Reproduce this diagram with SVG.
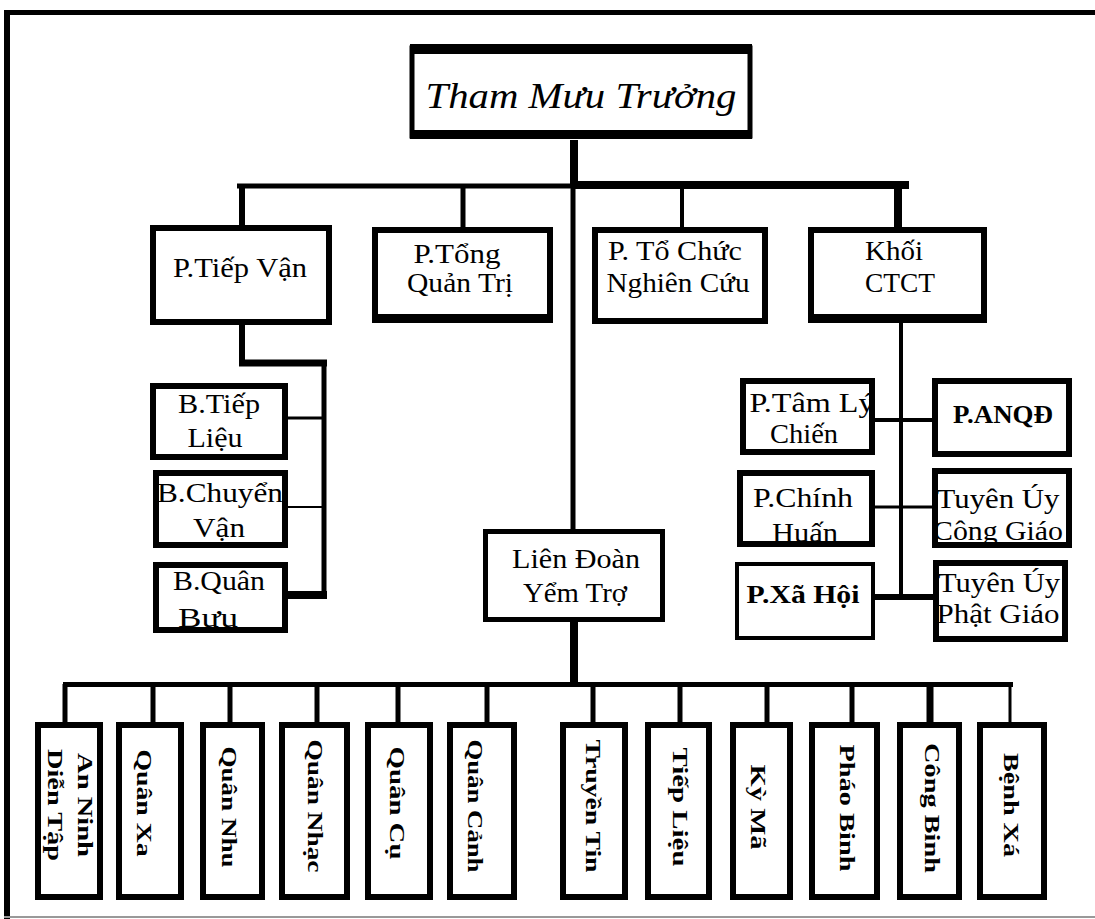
<svg xmlns="http://www.w3.org/2000/svg" width="1095" height="919" viewBox="0 0 1095 919">
<style>
.box{fill:#fff;stroke:#000;stroke-width:6}
.thin{fill:#fff;stroke:#000;stroke-width:4}
.t{font-family:"Liberation Serif","DejaVu Serif",serif;font-size:28px;fill:#000;text-anchor:middle}
.b{font-weight:bold}
.v{font-family:"Liberation Serif","DejaVu Serif",serif;font-size:22px;font-weight:bold;fill:#000;text-anchor:middle}
.c{stroke:#000;fill:none;stroke-linecap:butt}
</style>
<rect width="1095" height="919" fill="#fff"/>
<g id="frame">
<line x1="7" y1="10" x2="7" y2="919" stroke="#000" stroke-width="6"/>
<line x1="4" y1="12.5" x2="1095" y2="12.5" stroke="#000" stroke-width="5"/>
<line x1="4" y1="917" x2="1095" y2="917" stroke="#999" stroke-width="2"/>
</g>
<g id="connectors" class="c">
<line x1="574" y1="140" x2="574" y2="188" stroke-width="8"/>
<line x1="237" y1="186" x2="574" y2="186" stroke-width="5"/>
<line x1="574" y1="185" x2="909" y2="185" stroke-width="8"/>
<line x1="242" y1="185" x2="242" y2="226" stroke-width="6"/>
<line x1="463" y1="185" x2="463" y2="228" stroke-width="5"/>
<line x1="682" y1="185" x2="682" y2="228" stroke-width="4"/>
<line x1="898" y1="185" x2="898" y2="228" stroke-width="8"/>
<line x1="573" y1="186" x2="573" y2="530" stroke-width="5"/>
<line x1="574" y1="621" x2="574" y2="686" stroke-width="8"/>
<line x1="63" y1="684.5" x2="1013" y2="684.5" stroke-width="5"/>
<g stroke-width="5">
<line x1="65" y1="684" x2="65" y2="723"/>
<line x1="153" y1="684" x2="153" y2="723"/>
<line x1="230" y1="684" x2="230" y2="723"/>
<line x1="317" y1="684" x2="317" y2="723"/>
<line x1="398" y1="684" x2="398" y2="723"/>
<line x1="487" y1="684" x2="487" y2="723"/>
<line x1="593" y1="684" x2="593" y2="723"/>
<line x1="680" y1="684" x2="680" y2="723"/>
<line x1="767" y1="684" x2="767" y2="723"/>
<line x1="852" y1="684" x2="852" y2="723"/>
<line x1="930" y1="684" x2="930" y2="723" stroke-width="7"/>
<line x1="1010" y1="684" x2="1010" y2="723" stroke-width="3"/>
</g>
<line x1="242" y1="324" x2="242" y2="366" stroke-width="6"/>
<line x1="239" y1="363" x2="327" y2="363" stroke-width="7"/>
<line x1="324" y1="360" x2="324" y2="599" stroke-width="5"/>
<line x1="287" y1="595" x2="327" y2="595" stroke-width="8"/>
<line x1="287" y1="418" x2="324" y2="418" stroke-width="3"/>
<line x1="287" y1="507" x2="324" y2="507" stroke-width="2"/>
<line x1="901" y1="322" x2="901" y2="599" stroke-width="4"/>
<line x1="874" y1="420" x2="933" y2="420" stroke-width="4"/>
<line x1="874" y1="507" x2="933" y2="507" stroke-width="3"/>
<line x1="874" y1="597" x2="933" y2="597" stroke-width="6"/>
</g>
<g id="n-tmt">
<rect x="412" y="48" width="338" height="88" fill="#fff" stroke="#000" stroke-width="5"/>
<rect x="410" y="44" width="342" height="10" fill="#000"/>
<rect x="410" y="130" width="342" height="9" fill="#000"/>
<text x="581" y="108" class="t" style="font-size:36px;font-style:italic" textLength="311" lengthAdjust="spacingAndGlyphs">Tham Mưu Trưởng</text>
</g>
<g id="n-tiepvan">
<rect x="153" y="228" width="176" height="94" class="box"/>
<text x="240" y="277" class="t" textLength="134" lengthAdjust="spacingAndGlyphs">P.Tiếp Vận</text>
</g>
<g id="n-tongquantri">
<rect x="375" y="230" width="175" height="89" class="box"/>
<rect x="372" y="314" width="181" height="9" fill="#000"/>
<text x="457" y="263" class="t" textLength="87" lengthAdjust="spacingAndGlyphs">P.Tổng</text>
<text x="460" y="292" class="t" textLength="106" lengthAdjust="spacingAndGlyphs">Quản Trị</text>
</g>
<g id="n-tochuc">
<rect x="595" y="230" width="170" height="91" class="box"/>
<text x="675" y="260" class="t" textLength="134" lengthAdjust="spacingAndGlyphs">P. Tổ Chức</text>
<text x="678" y="292" class="t" textLength="143" lengthAdjust="spacingAndGlyphs">Nghiên Cứu</text>
</g>
<g id="n-khoi">
<rect x="811" y="230" width="173" height="89" class="box"/>
<rect x="808" y="314" width="179" height="9" fill="#000"/>
<text x="894" y="260" class="t" textLength="58" lengthAdjust="spacingAndGlyphs">Khối</text>
<text x="900" y="292" class="t" textLength="70" lengthAdjust="spacingAndGlyphs">CTCT</text>
</g>
<g id="n-btieplieu">
<rect x="153" y="386" width="132" height="71" class="box"/>
<text x="219" y="413" class="t" textLength="82" lengthAdjust="spacingAndGlyphs">B.Tiếp</text>
<text x="215" y="447" class="t" textLength="55" lengthAdjust="spacingAndGlyphs">Liệu</text>
</g>
<g id="n-bchuyenvan">
<rect x="156" y="473" width="129" height="72" class="box"/>
<text x="220" y="502" class="t" textLength="126" lengthAdjust="spacingAndGlyphs">B.Chuyển</text>
<text x="219" y="537" class="t" textLength="52" lengthAdjust="spacingAndGlyphs">Vận</text>
</g>
<g id="n-bquanbuu">
<rect x="156" y="565" width="129" height="65" class="box"/>
<text x="219" y="590" class="t" textLength="92" lengthAdjust="spacingAndGlyphs">B.Quân</text>
<text x="208" y="627" class="t" textLength="60" lengthAdjust="spacingAndGlyphs">Bưu</text>
</g>
<g id="n-tamly">
<rect x="743" y="381" width="129" height="71" class="box"/>
<text x="812" y="412" class="t" textLength="125" lengthAdjust="spacingAndGlyphs">P.Tâm Lý</text>
<text x="804" y="443" class="t" textLength="68" lengthAdjust="spacingAndGlyphs">Chiến</text>
</g>
<g id="n-anqd">
<rect x="935" y="381" width="134" height="73" class="box"/>
<text x="1003" y="423" class="t b" style="font-size:26px" textLength="100" lengthAdjust="spacingAndGlyphs">P.ANQĐ</text>
</g>
<g id="n-chinhhuan">
<rect x="740" y="473" width="132" height="71" class="box"/>
<text x="803" y="507" class="t" textLength="100" lengthAdjust="spacingAndGlyphs">P.Chính</text>
<text x="805" y="542" class="t" textLength="66" lengthAdjust="spacingAndGlyphs">Huấn</text>
</g>
<g id="n-congiao">
<rect x="935" y="471" width="134" height="74" class="box"/>
<text x="998" y="508" class="t" textLength="123" lengthAdjust="spacingAndGlyphs">Tuyên Úy</text>
<text x="998" y="540" class="t" textLength="130" lengthAdjust="spacingAndGlyphs">Công Giáo</text>
</g>
<g id="n-xahoi">
<rect x="737" y="564" width="136" height="74" class="thin"/>
<text x="803" y="603" class="t b" style="font-size:26px" textLength="113" lengthAdjust="spacingAndGlyphs">P.Xã Hội</text>
</g>
<g id="n-phatgiao">
<rect x="936" y="563" width="129" height="76" class="box"/>
<text x="999" y="592" class="t" textLength="122" lengthAdjust="spacingAndGlyphs">Tuyên Úy</text>
<text x="998" y="623" class="t" textLength="123" lengthAdjust="spacingAndGlyphs">Phật Giáo</text>
</g>
<g id="n-liendoan">
<rect x="485.5" y="531.5" width="177" height="88" class="box" style="stroke-width:5"/>
<text x="576" y="568" class="t" textLength="128" lengthAdjust="spacingAndGlyphs">Liên Đoàn</text>
<text x="575" y="602" class="t" textLength="104" lengthAdjust="spacingAndGlyphs">Yểm Trợ</text>
</g>
<g id="n-anninh">
<rect x="38" y="725" width="62" height="172" class="box"/>
<g transform="translate(72,805) rotate(90)">
<text x="0" y="-6" class="v" textLength="104" lengthAdjust="spacingAndGlyphs">An Ninh</text>
<text x="0" y="24" class="v" textLength="112" lengthAdjust="spacingAndGlyphs">Diễn Tập</text>
</g>
</g>
<g id="n-quanxa">
<rect x="119" y="725" width="62" height="172" class="box"/>
<text transform="translate(137,803) rotate(90)" class="v" textLength="107" lengthAdjust="spacingAndGlyphs">Quân Xa</text>
</g>
<g id="n-quannhu">
<rect x="203" y="725" width="59" height="172" class="box"/>
<text transform="translate(222,807) rotate(90)" class="v" textLength="121" lengthAdjust="spacingAndGlyphs">Quân Nhu</text>
</g>
<g id="n-quannhac">
<rect x="282" y="725" width="65" height="172" class="box"/>
<text transform="translate(308,806) rotate(90)" class="v" textLength="133" lengthAdjust="spacingAndGlyphs">Quân Nhạc</text>
</g>
<g id="n-quancu">
<rect x="368" y="725" width="62" height="172" class="box"/>
<text transform="translate(390,803) rotate(90)" class="v" textLength="113" lengthAdjust="spacingAndGlyphs">Quân Cụ</text>
</g>
<g id="n-quancanh">
<rect x="450" y="725" width="64" height="172" class="box"/>
<text transform="translate(468,806) rotate(90)" class="v" textLength="133" lengthAdjust="spacingAndGlyphs">Quân Cảnh</text>
</g>
<g id="n-truyentin">
<rect x="563" y="725" width="62" height="172" class="box"/>
<text transform="translate(586,806) rotate(90)" class="v" textLength="133" lengthAdjust="spacingAndGlyphs">Truyền Tin</text>
</g>
<g id="n-tieplieu">
<rect x="648" y="725" width="61" height="172" class="box"/>
<text transform="translate(673,807) rotate(90)" class="v" textLength="119" lengthAdjust="spacingAndGlyphs">Tiếp Liệu</text>
</g>
<g id="n-kyma">
<rect x="733" y="725" width="57" height="172" class="box"/>
<text transform="translate(751,807) rotate(90)" class="v" textLength="85" lengthAdjust="spacingAndGlyphs">Kỳ Mã</text>
</g>
<g id="n-phaobinh">
<rect x="812" y="725" width="65" height="172" class="box"/>
<text transform="translate(840,808) rotate(90)" class="v" textLength="127" lengthAdjust="spacingAndGlyphs">Pháo Binh</text>
</g>
<g id="n-congbinh">
<rect x="900" y="725" width="59" height="172" class="box"/>
<text transform="translate(925,808) rotate(90)" class="v" textLength="130" lengthAdjust="spacingAndGlyphs">Công Binh</text>
</g>
<g id="n-benhxa">
<rect x="980" y="725" width="64" height="172" class="box"/>
<text transform="translate(1004,805) rotate(90)" class="v" textLength="104" lengthAdjust="spacingAndGlyphs">Bệnh Xá</text>
</g>
</svg>
